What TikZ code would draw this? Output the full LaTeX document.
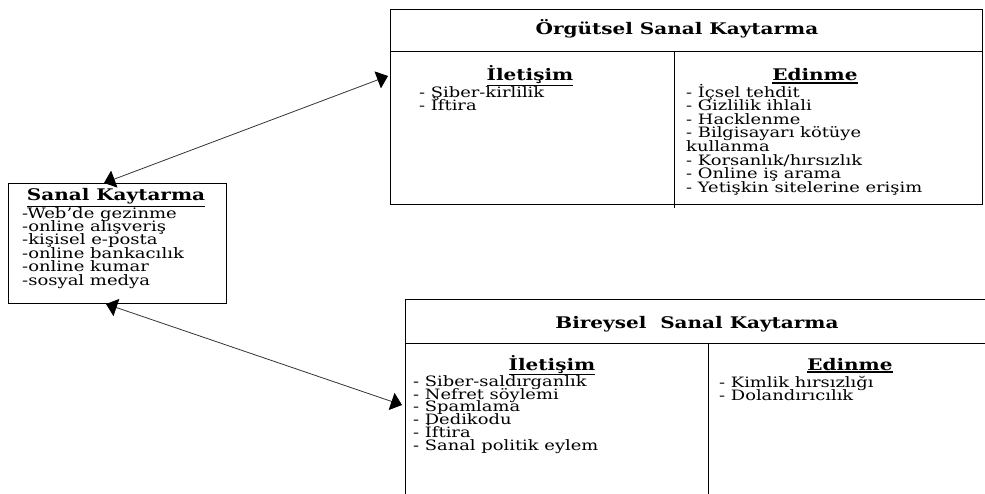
\documentclass[tikz,border=0pt]{standalone}
\usepackage{fontspec}
\setmainfont{DejaVu Serif}[FakeStretch=1.25]
\usetikzlibrary{arrows.meta}
\newcommand\firstline{\rule{0pt}{15pt}}
\newcommand\thickul[1]{\vtop{\hbox{#1}\kern1.0pt\hrule height 1.3pt}}
\begin{document}
\setlength{\lineskiplimit}{-50pt}
\begin{tikzpicture}[x=1pt,y=-1pt,
  frame/.style={line width=1pt, draw=black},
  ttl/.style={font=\fontsize{16}{18}\selectfont\bfseries, inner sep=0, anchor=base},
  hd/.style={font=\fontsize{16}{18}\selectfont\bfseries, inner sep=0, anchor=base},
  lst/.style={font=\fontsize{14.3}{13.6}\selectfont, align=left, inner sep=0, anchor=north west},
  blst/.style={lst, font=\fontsize{14.3}{12.8}\selectfont},
  slst/.style={lst, font=\fontsize{14.4}{13.4}\selectfont},
  conn/.style={draw=black!80, line width=0.8pt,
    {Triangle[length=11pt,width=18pt,color=black]}-{Triangle[length=11pt,width=18pt,color=black]}}]
\useasboundingbox (0,0) rectangle (985,494);

% Sanal Kaytarma box
\node[frame, anchor=north west, minimum width=218pt, minimum height=120pt, inner sep=0] (sanal) at (8,183) {};
\node[ttl] (sanalT) at (116,201) {\thickul{Sanal Kaytarma}};
\node[slst] (sanalL) at (22,203) {\firstline-Web'de gezinme\\-online alışveriş\\-kişisel e-posta\\-online bankacılık\\-online kumar\\-sosyal medya};

% Orgutsel box
\node[frame, anchor=north west, minimum width=592pt, minimum height=195pt, inner sep=0] (org) at (390,9) {};
\coordinate (orgHL) at (390,52);
\coordinate (orgHR) at (982,52);
\coordinate (orgVT) at (674,52);
\coordinate (orgVB) at (674,208);
\draw[frame] (orgHL) -- (orgHR);
\draw[frame] (orgVT) -- (orgVB);
\node[ttl] (orgT) at (677,35) {Örgütsel Sanal Kaytarma};
\node[hd] (orgIH) at (530,81) {\thickul{İletişim}};
\node[lst] (orgIL) at (419,82) {\firstline- Şiber-kirlilik\\- İftira};
\node[hd] (orgEH) at (815,81) {\thickul{Edinme}};
\node[lst] (orgEL) at (686,82) {\firstline- İçsel tehdit\\- Gizlilik ihlali\\- Hacklenme\\- Bilgisayarı kötüye\\kullanma\\- Korsanlık/hırsızlık\\- Online iş arama\\- Yetişkin sitelerine erişim};

% Bireysel box (open on right and bottom)
\coordinate (birTL) at (405,300);
\coordinate (birTR) at (985,300);
\coordinate (birBL) at (405,494);
\coordinate (birHL) at (405,343);
\coordinate (birHR) at (985,343);
\coordinate (birVT) at (708,343);
\coordinate (birVB) at (708,494);
\draw[frame] (birTR) -- (birTL) -- (birBL);
\draw[frame] (birHL) -- (birHR);
\draw[frame] (birVT) -- (birVB);
\node[ttl] (birT) at (697,328) {Bireysel\ \ Sanal Kaytarma};
\node[hd] (birIH) at (552,370) {\thickul{İletişim}};
\node[blst] (birIL) at (413,371) {\firstline- Siber-saldırganlık\\- Nefret söylemi\\- Spamlama\\- Dedikodu\\- İftira\\- Sanal politik eylem};
\node[hd] (birEH) at (850,370) {\thickul{Edinme}};
\node[blst] (birEL) at (719,372) {\firstline- Kimlik hırsızlığı\\- Dolandırıcılık};

% connectors
\coordinate (a1s) at (104,183);
\coordinate (a1o) at (388,76);
\coordinate (a2s) at (106,304);
\coordinate (a2b) at (402,405);
\draw[conn] (a1s) -- (a1o);
\draw[conn] (a2s) -- (a2b);
\end{tikzpicture}
\end{document}
